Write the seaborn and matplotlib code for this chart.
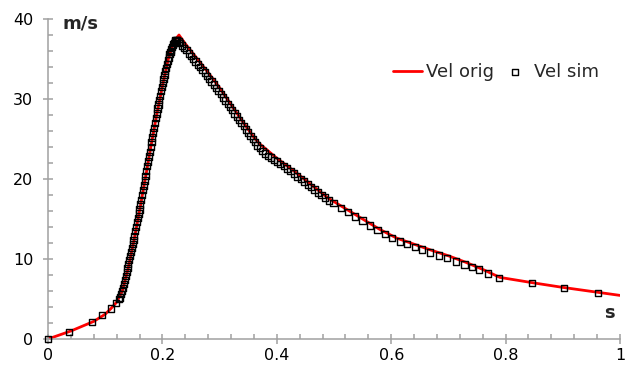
import matplotlib
matplotlib.use("Agg")
import matplotlib.pyplot as plt
import seaborn as sns
import pandas as pd
from matplotlib.ticker import MultipleLocator, FormatStrFormatter

# original velocity curve (s, m/s)
t_orig = [0.0, 0.04, 0.08, 0.10, 0.11, 0.12, 0.13, 0.14, 0.15, 0.16, 0.17, 0.18,
          0.19, 0.20, 0.21, 0.22, 0.229, 0.24, 0.26, 0.28, 0.30, 0.32, 0.34, 0.36,
          0.37, 0.38, 0.40, 0.43, 0.46, 0.49, 0.52, 0.55, 0.58, 0.61, 0.64, 0.67,
          0.70, 0.73, 0.76, 0.79, 0.85, 0.90, 0.96, 1.00]
v_orig = [0.0, 1.0, 2.2, 3.1, 3.8, 4.6, 6.0, 8.8, 12.2, 16.0, 20.0, 24.1,
          28.0, 31.6, 34.9, 37.2, 38.0, 36.9, 35.1, 33.3, 31.4, 29.3, 27.2, 25.2,
          24.4, 23.8, 22.6, 21.0, 19.3, 17.6, 16.3, 15.0, 13.7, 12.6, 11.85, 11.1,
          10.4, 9.6, 8.7, 7.7, 7.0, 6.45, 5.85, 5.45]

# simulated velocity samples (adaptive step)
t_sim = [0.0, 0.037, 0.077, 0.094, 0.110, 0.119, 0.124,
         0.126, 0.128, 0.130, 0.1315, 0.133, 0.1345, 0.136, 0.1375, 0.139, 0.1405,
         0.142, 0.1435, 0.145, 0.1465, 0.148, 0.1495, 0.151, 0.1525, 0.154, 0.1555,
         0.157, 0.1585, 0.160, 0.1615, 0.163, 0.1645, 0.166, 0.1675, 0.169, 0.1705,
         0.172, 0.1735, 0.175, 0.1765, 0.178, 0.1795, 0.181, 0.1825, 0.184, 0.1855,
         0.187, 0.1885, 0.190, 0.1915, 0.193, 0.1945, 0.196, 0.1975, 0.199, 0.2005,
         0.202, 0.2035, 0.205, 0.2065, 0.208, 0.2095, 0.211, 0.2125, 0.214, 0.2155,
         0.217, 0.2185, 0.220, 0.2215, 0.223, 0.2245, 0.226, 0.228,
         0.230, 0.234, 0.238, 0.242, 0.246, 0.250, 0.254, 0.258, 0.262, 0.266,
         0.270, 0.274, 0.278, 0.282, 0.286, 0.290, 0.294, 0.298, 0.302, 0.306,
         0.310, 0.314, 0.318, 0.322, 0.326, 0.330, 0.334, 0.338, 0.342, 0.346,
         0.350, 0.354, 0.358, 0.362, 0.366, 0.370, 0.375, 0.380, 0.385, 0.390,
         0.395, 0.400, 0.406, 0.412, 0.418, 0.424, 0.430, 0.436, 0.442, 0.448,
         0.454, 0.460, 0.466, 0.472, 0.478, 0.484, 0.491,
         0.499, 0.512, 0.524, 0.537, 0.550, 0.563, 0.576, 0.589, 0.602, 0.615,
         0.628, 0.641, 0.654, 0.668, 0.683, 0.698, 0.713, 0.728, 0.741, 0.753,
         0.769, 0.788, 0.846, 0.902, 0.962]
v_sim = [0.0, 0.9, 2.1, 3.0, 3.8, 4.5, 5.0,
         5.2, 5.6, 6.0, 6.4, 6.9, 7.4, 7.9, 8.4, 8.9, 9.4,
         9.9, 10.4, 10.9, 11.4, 11.9, 12.4, 12.9, 13.5, 14.0, 14.6,
         15.1, 15.7, 16.2, 16.8, 17.4, 18.0, 18.6, 19.2, 19.8, 20.4,
         21.0, 21.6, 22.2, 22.8, 23.4, 24.0, 24.6, 25.2, 25.8, 26.4,
         27.0, 27.6, 28.2, 28.8, 29.3, 29.9, 30.4, 31.0, 31.5, 32.0,
         32.5, 33.0, 33.5, 33.9, 34.4, 34.8, 35.2, 35.6, 35.9, 36.2,
         36.5, 36.8, 37.0, 37.2, 37.3, 37.3, 37.3, 37.2,
         37.0, 36.7, 36.4, 36.1, 35.7, 35.4, 35.0, 34.7, 34.3, 34.0,
         33.6, 33.3, 32.9, 32.5, 32.2, 31.8, 31.4, 31.0, 30.6, 30.2,
         29.8, 29.4, 29.0, 28.6, 28.2, 27.8, 27.4, 27.0, 26.6, 26.2,
         25.8, 25.4, 25.0, 24.6, 24.2, 23.9, 23.5, 23.2, 22.9, 22.7,
         22.4, 22.2, 21.9, 21.6, 21.3, 21.0, 20.7, 20.3, 20.0, 19.7,
         19.3, 19.0, 18.7, 18.3, 18.0, 17.7, 17.3,
         17.0, 16.4, 15.9, 15.3, 14.8, 14.2, 13.6, 13.1, 12.6, 12.2,
         11.9, 11.5, 11.2, 10.8, 10.45, 10.1, 9.7, 9.3, 9.0, 8.7,
         8.2, 7.6, 7.0, 6.4, 5.75]

orig = pd.DataFrame({"t": t_orig, "v": v_orig})
sim = pd.DataFrame({"t": t_sim, "v": v_sim})

sns.set_style("white")
plt.rcParams["font.family"] = ["DejaVu Sans"]

fig = plt.figure(figsize=(6.28, 3.65), dpi=100)
ax = fig.add_axes([48/628, 26/365, 572/628, 320/365])

sns.lineplot(data=orig, x="t", y="v", color="#ff0000", linewidth=2.0,
             label="Vel orig", ax=ax, zorder=2)
sns.scatterplot(data=sim, x="t", y="v", marker="s", s=20, facecolor="none",
                edgecolor="black", linewidth=1.0, label="Vel sim", ax=ax,
                zorder=3, clip_on=False)

ax.set_xlim(0, 1)
ax.set_ylim(0, 40)
ax.set_xlabel("")
ax.set_ylabel("")

grey = "#a0a0a0"
for side in ["top", "right"]:
    ax.spines[side].set_visible(False)
for side in ["left", "bottom"]:
    ax.spines[side].set_color(grey)
    ax.spines[side].set_linewidth(1.1)

ax.xaxis.set_major_locator(MultipleLocator(0.2))
ax.xaxis.set_minor_locator(MultipleLocator(0.04))
ax.yaxis.set_major_locator(MultipleLocator(10))
ax.yaxis.set_minor_locator(MultipleLocator(2))
ax.xaxis.set_major_formatter(FormatStrFormatter("%g"))
ax.tick_params(which="both", bottom=True, left=True, top=False, right=False)
ax.tick_params(which="major", direction="inout", length=7, width=1.1, color=grey,
               labelsize=11.5, labelcolor="black")
ax.tick_params(which="minor", direction="in", length=3.5, width=1.1, color=grey)
ax.tick_params(axis="y", which="major", pad=7)
ax.tick_params(axis="x", which="major", pad=3)

fig.text(62/628, 1 - 24/365, "m/s", fontsize=13, fontweight="bold", va="center")
fig.text(609/628, 1 - 313/365, "s", fontsize=13, fontweight="bold",
         va="center", ha="center")

ax.legend(loc="center left", bbox_to_anchor=(393/628, 1 - 72/365),
          bbox_transform=fig.transFigure, frameon=False, ncol=2, fontsize=13,
          borderpad=0, borderaxespad=0, handlelength=1.6, handletextpad=0.25,
          columnspacing=0.35, markerscale=1.0)

fig.savefig("out.png", dpi=100, facecolor="white")
